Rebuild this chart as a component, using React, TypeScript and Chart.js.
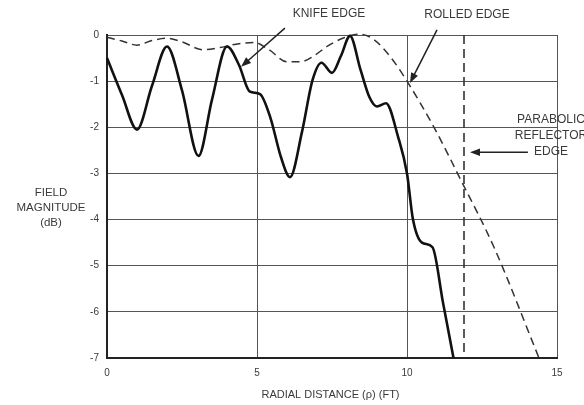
import React, { useEffect, useRef } from "react";
import { Chart, registerables } from "chart.js";

Chart.register(...registerables);

// Knife edge (solid) curve: radial distance (ft) vs field magnitude (dB)
const knifeX = [0, 0.5, 1.0, 1.5, 2.0, 2.5, 3.05, 3.5, 4.0, 4.4, 4.75, 5.1, 5.45, 5.8, 6.1, 6.5, 6.85, 7.15, 7.5, 7.8, 8.1, 8.45, 8.75, 9.0, 9.3, 9.7, 10.0, 10.2, 10.5, 10.85, 11.2, 11.55];
const knifeY = [-0.5, -1.3, -2.05, -1.1, -0.25, -1.2, -2.62, -1.4, -0.25, -0.65, -1.22, -1.28, -1.8, -2.65, -3.08, -2.1, -0.98, -0.6, -0.82, -0.45, -0.02, -0.75, -1.35, -1.55, -1.48, -2.2, -3.0, -4.0, -4.5, -4.6, -5.8, -7.0];

// Rolled edge (dashed) curve
const rolledX = [0, 0.5, 1.0, 1.5, 2.0, 2.5, 3.2, 3.7, 4.3, 4.9, 5.4, 6.0, 6.45, 6.9, 7.35, 7.9, 8.4, 8.9, 9.5, 10.0, 10.9, 11.8, 12.9, 14.4];
const rolledY = [-0.05, -0.13, -0.22, -0.12, -0.07, -0.15, -0.32, -0.28, -0.2, -0.16, -0.32, -0.58, -0.58, -0.45, -0.24, -0.06, 0.02, -0.1, -0.52, -1.0, -2.0, -3.15, -4.6, -7.0];

// Parabolic reflector edge (vertical dashed line)
const reflectorEdgeX = [11.9, 11.9];
const reflectorEdgeY = [0, -7];

const xTickValues = [0, 5, 10, 15];
const xTickLabels = ["0", "5", "10", "15"];
const yTickValues = [0, -1, -2, -3, -4, -5, -6, -7];
const yTickLabels = ["0", "-1", "-2", "-3", "-4", "-5", "-6", "-7"];

const xAxisTitle = "RADIAL DISTANCE (ρ) (FT)";
const yAxisTitleLines = ["FIELD", "MAGNITUDE", "(dB)"];
const knifeLabel = "KNIFE EDGE";
const rolledLabel = "ROLLED EDGE";
const reflectorLabelLines = ["PARABOLIC", "REFLECTOR", "EDGE"];

const FONT = "'Liberation Sans', Arial, sans-serif";
const TEXT_COLOR = "#3a3a3a";

function drawArrow(ctx: CanvasRenderingContext2D, x1: number, y1: number, x2: number, y2: number) {
  const ang = Math.atan2(y2 - y1, x2 - x1);
  const len = 10;
  const hw = 3.8;
  ctx.beginPath();
  ctx.moveTo(x1, y1);
  ctx.lineTo(x2 - Math.cos(ang) * len * 0.8, y2 - Math.sin(ang) * len * 0.8);
  ctx.stroke();
  ctx.beginPath();
  ctx.moveTo(x2, y2);
  ctx.lineTo(x2 - Math.cos(ang) * len + Math.sin(ang) * hw, y2 - Math.sin(ang) * len - Math.cos(ang) * hw);
  ctx.lineTo(x2 - Math.cos(ang) * len - Math.sin(ang) * hw, y2 - Math.sin(ang) * len + Math.cos(ang) * hw);
  ctx.closePath();
  ctx.fill();
}

const annotationPlugin = {
  id: "annotations",
  afterDraw(chart: any) {
    const { ctx, scales } = chart;
    const xs = scales.x;
    const ys = scales.y;
    const px = (v: number) => xs.getPixelForValue(v);
    const py = (v: number) => ys.getPixelForValue(v);
    ctx.save();
    ctx.fillStyle = TEXT_COLOR;
    ctx.strokeStyle = "#222";
    ctx.lineWidth = 1.5;
    ctx.textAlign = "center";
    ctx.textBaseline = "middle";
    ctx.font = `12px ${FONT}`;

    ctx.fillText(knifeLabel, px(7.4), py(0.46));
    ctx.fillText(rolledLabel, px(12.0), py(0.44));
    reflectorLabelLines.forEach((t, i) => {
      ctx.fillText(t, px(14.8), py(-1.84) + i * 16);
    });

    ctx.fillStyle = "#222";
    drawArrow(ctx, px(5.93), py(0.15), px(4.47), py(-0.69));
    drawArrow(ctx, px(11.0), py(0.11), px(10.1), py(-1.04));
    drawArrow(ctx, px(14.03), py(-2.54), px(12.1), py(-2.54));

    ctx.fillStyle = TEXT_COLOR;
    ctx.font = `11.5px ${FONT}`;
    const yc = py(-3.75);
    yAxisTitleLines.forEach((t, i) => {
      ctx.fillText(t, chart.chartArea.left - 56, yc + (i - 1) * 15);
    });
    ctx.font = `11px ${FONT}`;
    ctx.fillText(xAxisTitle, px(7.45), chart.chartArea.bottom + 37);
    ctx.restore();
  },
};

export default function App() {
  const ref = useRef<HTMLCanvasElement | null>(null);
  useEffect(() => {
    if (!ref.current) return;
    const chart = new Chart(ref.current, {
      type: "line",
      data: {
        datasets: [
          {
            label: knifeLabel,
            data: knifeX.map((x, i) => ({ x, y: knifeY[i] })),
            borderColor: "#111",
            borderWidth: 2.6,
            pointRadius: 0,
            cubicInterpolationMode: "monotone",
            clip: false,
          },
          {
            label: rolledLabel,
            data: rolledX.map((x, i) => ({ x, y: rolledY[i] })),
            borderColor: "#333",
            borderWidth: 1.5,
            borderDash: [8, 5],
            pointRadius: 0,
            cubicInterpolationMode: "monotone",
            clip: false,
          },
          {
            label: "PARABOLIC REFLECTOR EDGE",
            data: reflectorEdgeX.map((x, i) => ({ x, y: reflectorEdgeY[i] })),
            borderColor: "#333",
            borderWidth: 1.6,
            borderDash: [9, 5],
            pointRadius: 0,
            tension: 0,
          },
        ],
      },
      options: {
        responsive: false,
        animation: false,
        layout: { padding: { top: 35, right: 27, left: 0, bottom: 0 } },
        plugins: { legend: { display: false }, tooltip: { enabled: false } },
        scales: {
          x: {
            type: "linear",
            min: 0,
            max: 15,
            afterBuildTicks: (s: any) => {
              s.ticks = xTickValues.map((v) => ({ value: v }));
            },
            afterFit: (s: any) => {
              s.height = 47;
            },
            ticks: {
              padding: 9,
              color: TEXT_COLOR,
              font: { family: FONT, size: 10 },
              callback: (v: any) => xTickLabels[xTickValues.indexOf(Number(v))] ?? "",
            },
            grid: { color: "#555", lineWidth: 1, drawTicks: false },
            border: { color: "#222", width: 2 },
          },
          y: {
            type: "linear",
            min: -7,
            max: 0,
            afterBuildTicks: (s: any) => {
              s.ticks = yTickValues.map((v) => ({ value: v }));
            },
            afterFit: (s: any) => {
              s.width = 107;
            },
            ticks: {
              padding: 8,
              color: TEXT_COLOR,
              font: { family: FONT, size: 10 },
              callback: (v: any) => yTickLabels[yTickValues.indexOf(Number(v))] ?? "",
            },
            grid: { color: "#555", lineWidth: 1, drawTicks: false },
            border: { color: "#222", width: 2 },
          },
        },
      },
      plugins: [annotationPlugin],
    });
    return () => chart.destroy();
  }, []);
  return (
    <div style={{ position: "fixed", left: 0, top: 0, width: 584, height: 405, background: "#fff" }}>
      <canvas ref={ref} width={584} height={405} />
    </div>
  );
}
